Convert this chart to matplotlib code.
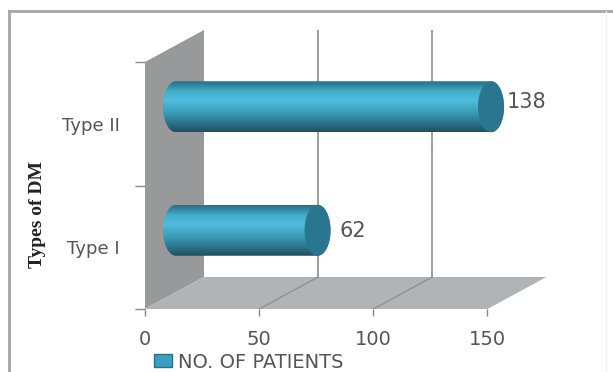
import numpy as np
import matplotlib
matplotlib.use('Agg')
import matplotlib.pyplot as plt
from matplotlib.colors import LinearSegmentedColormap
from matplotlib.lines import Line2D
from matplotlib.patches import Ellipse, Patch, Polygon

categories = ['Type I', 'Type II']
patients = [62, 138]
x_ticks = [0, 50, 100, 150]
series_name = 'NO. OF PATIENTS'
y_title = 'Types of DM'

# value label nudges, in pixels
label_dx = [9, 3]
label_dy = [-0.5, 4.5]

W, H = 613, 372
# front plane of the 3D box, in pixels
LEFT, BOTTOM, RIGHT, TOP = 145, 309, 546, 30
PX_PER_X = 2.283
PX_PER_Y = 123.5

fig = plt.figure(figsize=(W / 100, H / 100), dpi=100, facecolor='white')
ax = fig.add_axes([LEFT / W, (H - BOTTOM) / H, (RIGHT - LEFT) / W, (BOTTOM - TOP) / H])
xmax = (RIGHT - LEFT) / PX_PER_X
ymax = (BOTTOM - TOP) / PX_PER_Y

# depth of the box, and of the bar centres inside it
depth_x = 59 / PX_PER_X
depth_y = 32 / PX_PER_Y
mid_x = 31 / PX_PER_X
mid_y = 17 / PX_PER_Y
top_y = len(categories)

# back wall side panel and floor
ax.add_patch(Polygon([(0, 0), (depth_x, depth_y), (depth_x, top_y + depth_y), (0, top_y)],
                     fc='#97999b', ec='none', zorder=1))
ax.add_patch(Polygon([(0, 0), (depth_x, depth_y), (150 + depth_x, depth_y), (150, 0)],
                     fc='#b1b4b6', ec='none', zorder=1))

for t in x_ticks[1:3]:
    ax.plot([t + depth_x, t + depth_x], [depth_y, top_y + depth_y], color='#8c8c8c', lw=1.2, zorder=2)
    ax.plot([t, t + depth_x], [0, depth_y], color='#8f9294', lw=1.0, zorder=2)

body_cmap = LinearSegmentedColormap.from_list('body', [
    (0.0, '#2b6f82'), (0.06, '#2f8199'), (0.2, '#45aecb'), (0.38, '#4fbddd'),
    (0.62, '#3c9cb8'), (0.85, '#2a6f84'), (1.0, '#1f4f5e')])

bar_h = 51 / PX_PER_Y
cap_w = 26 / PX_PER_X

for i, value in enumerate(patients):
    y_c = i + 0.5 + mid_y
    x_end = mid_x + value
    th = np.linspace(-np.pi / 2, np.pi / 2, 40)
    right_x = x_end + cap_w / 2 * np.cos(th)
    right_y = y_c + bar_h / 2 * np.sin(th)
    left_x = mid_x - cap_w / 2 * np.cos(th[::-1])
    left_y = y_c + bar_h / 2 * np.sin(th[::-1])
    outline = Polygon(np.column_stack([np.r_[right_x, left_x], np.r_[right_y, left_y]]),
                      transform=ax.transData, fc='none', ec='none')
    ax.add_patch(outline)
    im = ax.imshow(np.linspace(0, 1, 120).reshape(-1, 1), cmap=body_cmap, aspect='auto',
                   extent=[mid_x - cap_w, x_end + cap_w, y_c - bar_h / 2, y_c + bar_h / 2],
                   origin='upper', zorder=3, interpolation='bilinear')
    im.set_clip_path(outline)
    ax.add_patch(Ellipse((x_end, y_c), cap_w, bar_h, fc='#2a7690', ec='none', zorder=4))
    ax.text(x_end + cap_w / 2 + label_dx[i] / PX_PER_X, y_c + label_dy[i] / PX_PER_Y, str(value),
            ha='left', va='center', fontsize=15, color='#555555', zorder=5)

ax.set_xlim(0, xmax)
ax.set_ylim(0, ymax)
for s in ax.spines.values():
    s.set_visible(False)
ax.patch.set_alpha(0)

ax.set_xticks(x_ticks)
ax.tick_params(axis='x', length=5, width=1, color='#888888', labelsize=14, labelcolor='#555555', pad=10)
ax.set_yticks([0, 1, 2])
ax.set_yticklabels([])
ax.set_yticks([0.5, 1.5], minor=True)
ax.set_yticklabels(categories, minor=True)
ax.tick_params(axis='y', which='major', length=7, width=1, color='#888888')
ax.tick_params(axis='y', which='minor', length=0, labelsize=13, labelcolor='#555555', pad=18)

fig.text(38 / W, 1 - 214 / H, y_title, rotation=90, ha='center', va='center',
         family='Liberation Serif', fontweight='bold', fontsize=14, color='#222222')

fig.legend(handles=[Patch(fc='#3a9fc0', ec='#2a6f84', label=series_name)],
           loc='center left', bbox_to_anchor=(154 / W, 1 - 362 / H), frameon=False,
           fontsize=14, labelcolor='#555555', handlelength=0.93, handleheight=0.6,
           handletextpad=0.3, borderpad=0, borderaxespad=0)

# outer chart border
for xs, ys, c in [([9, 9], [11, 372], '#a5a5a5'), ([9, 613], [11, 11], '#a5a5a5'),
                  ([606, 606], [11, 372], '#f0f0f0')]:
    fig.add_artist(Line2D([x / W for x in xs], [1 - y / H for y in ys], color=c, lw=2 if c != '#f0f0f0' else 1))

fig.savefig('out.png', dpi=100)
